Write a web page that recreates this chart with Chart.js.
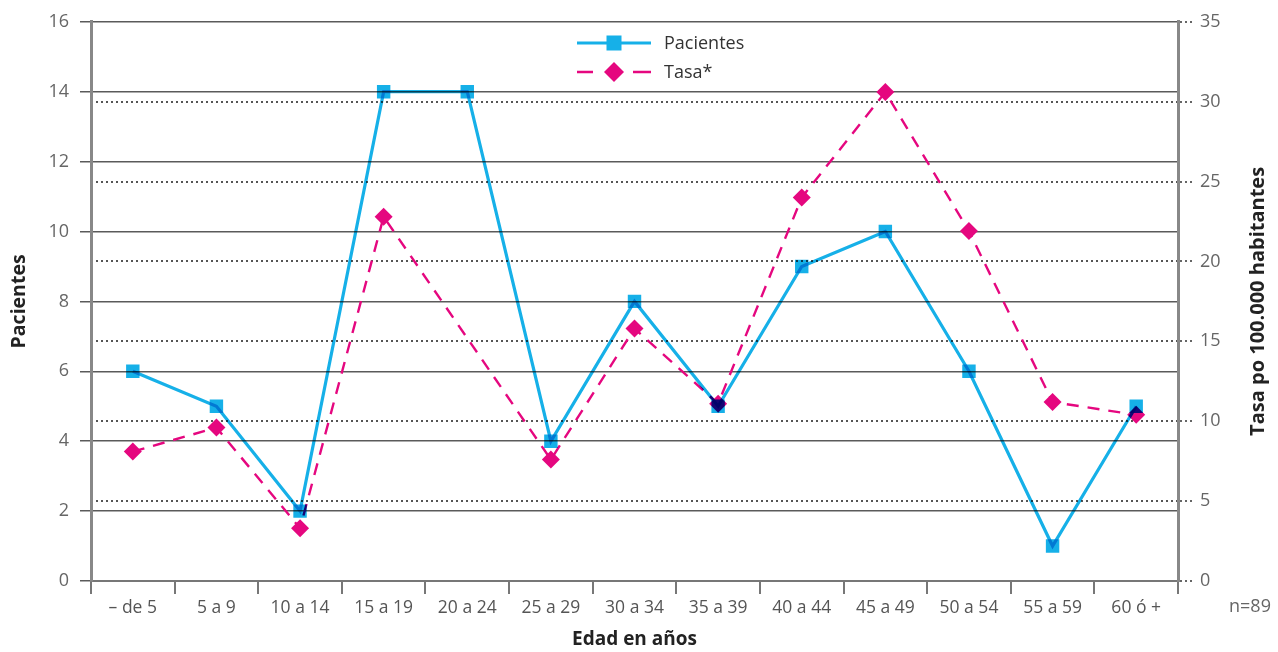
<!DOCTYPE html>
<html><head><meta charset="utf-8">
<script src="https://cdn.jsdelivr.net/npm/chart.js@4"></script>
<style>html,body{margin:0;padding:0;background:#fff;overflow:hidden}</style>
</head><body>
<canvas id="c" width="1278" height="652" style="width:1278px;height:652px;display:block"></canvas>
<script>
const categories = ['– de 5','5 a 9','10 a 14','15 a 19','20 a 24','25 a 29','30 a 34','35 a 39','40 a 44','45 a 49','50 a 54','55 a 59','60 ó +'];
const pacientes = [6,5,2,14,14,4,8,5,9,10,6,1,5];
const tasa = [8.1,9.6,3.3,22.8,null,7.6,15.8,11.1,24.0,30.6,21.9,11.2,10.4];
const leftAxis = {min:0, max:16, step:2, title:'Pacientes'};
const rightAxis = {min:0, max:35, step:5, title:'Tasa po 100.000 habitantes'};
const xTitle = 'Edad en años';
const noteText = 'n=89';
const seriesNames = ['Pacientes','Tasa*'];

const BLUE = '#16b0e8', PINK = '#e5077f';
Chart.defaults.font.family = "'Open Sans', sans-serif";

const extras = {
  id:'extras',
  beforeDatasetDraw(chart, args){
    if(args.index===0){ chart.ctx.save(); chart.ctx.globalCompositeOperation='multiply'; }
  },
  afterDatasetDraw(chart, args){
    if(args.index===0){ chart.ctx.restore(); }
  },
  afterDraw(chart){
    const ctx = chart.ctx, ca = chart.chartArea;
    ctx.save();
    ctx.fillStyle = '#222';
    ctx.font = "bold 20px 'Open Sans', sans-serif";
    ctx.textAlign='center'; ctx.textBaseline='middle';
    ctx.translate(1258,(ca.top+ca.bottom)/2);
    ctx.rotate(-Math.PI/2);
    ctx.fillText(rightAxis.title,0,0);
    ctx.restore();
    ctx.save();
    ctx.fillStyle='#666';
    ctx.font = "18px 'Open Sans', sans-serif";
    ctx.textAlign='center'; ctx.textBaseline='middle';
    ctx.fillText(noteText,1250,607);
    // legend
    const lx0=577, lx1=651, mx=614, y1=43, y2=72;
    ctx.strokeStyle=BLUE; ctx.lineWidth=3;
    ctx.beginPath(); ctx.moveTo(lx0,y1); ctx.lineTo(lx1,y1); ctx.stroke();
    ctx.fillStyle=BLUE; ctx.fillRect(mx-7.5,y1-7.5,15,15);
    ctx.strokeStyle=PINK; ctx.lineWidth=2.5;
    ctx.beginPath(); ctx.moveTo(lx0,y2); ctx.lineTo(593,y2); ctx.moveTo(633,y2); ctx.lineTo(lx1,y2); ctx.stroke();
    ctx.fillStyle=PINK; ctx.beginPath();
    ctx.moveTo(mx,y2-10); ctx.lineTo(mx+10,y2); ctx.lineTo(mx,y2+10); ctx.lineTo(mx-10,y2); ctx.closePath(); ctx.fill();
    ctx.fillStyle='#333'; ctx.font="18px 'Open Sans', sans-serif"; ctx.textAlign='left';
    ctx.fillText(seriesNames[0],664,y1+1);
    ctx.fillText(seriesNames[1],664,y2+1);
    ctx.restore();
  }
};

new Chart(document.getElementById('c'), {
  type:'line',
  data:{
    labels:categories,
    datasets:[
      {label:seriesNames[0], data:pacientes, yAxisID:'y', borderColor:BLUE, backgroundColor:BLUE, borderWidth:3.2,
       pointStyle:'rect', pointRadius:9.5, pointHoverRadius:9.5, pointBorderWidth:0, tension:0},
      {label:seriesNames[1], data:tasa, yAxisID:'y2', borderColor:PINK, backgroundColor:PINK, borderWidth:2.4,
       borderDash:[12,9], pointStyle:'rectRot', pointRadius:9, pointHoverRadius:9, pointBorderWidth:0, tension:0, spanGaps:true}
    ]
  },
  options:{
    responsive:false, animation:false,
    layout:{padding:{top:19,left:0,right:0,bottom:0}},
    plugins:{legend:{display:false}, tooltip:{enabled:false}},
    scales:{
      x:{
        offset:true,
        grid:{offset:true, drawOnChartArea:false, drawTicks:true, tickLength:13, color:'#777', lineWidth:2},
        border:{color:'#777', width:2},
        ticks:{color:'#555', font:{size:17.5}, padding:4, maxRotation:0, autoSkip:false},
        title:{display:true, text:xTitle, color:'#222', font:{size:19, weight:'bold'}, padding:{top:0,bottom:1}},
        afterFit(s){ s.height = 71; }
      },
      y:{
        position:'left', min:leftAxis.min, max:leftAxis.max,
        ticks:{stepSize:leftAxis.step, color:'#666', font:{size:18}, padding:11},
        grid:{color:'#5a5a5a', lineWidth:1.5, tickLength:11},
        border:{color:'#888', width:3},
        title:{display:true, text:leftAxis.title, color:'#222', font:{size:19.5, weight:'bold'}, padding:{top:8,bottom:0}},
        afterFit(s){ s.width = 91; }
      },
      y2:{
        position:'right', min:rightAxis.min, max:rightAxis.max,
        ticks:{stepSize:rightAxis.step, color:'#666', font:{size:18}, padding:7},
        grid:{
          color:(c)=> (c.tick && (c.tick.value===rightAxis.min || c.tick.value===rightAxis.max)) ? 'rgba(0,0,0,0)' : '#555',
          tickColor:'#666', lineWidth:2, tickBorderDash:[2,3], tickLength:15
        },
        border:{color:'#888', width:3, dash:[2,3]},
        afterFit(s){ s.width = 100; }
      }
    }
  },
  plugins:[extras]
});
</script>
</body></html>
